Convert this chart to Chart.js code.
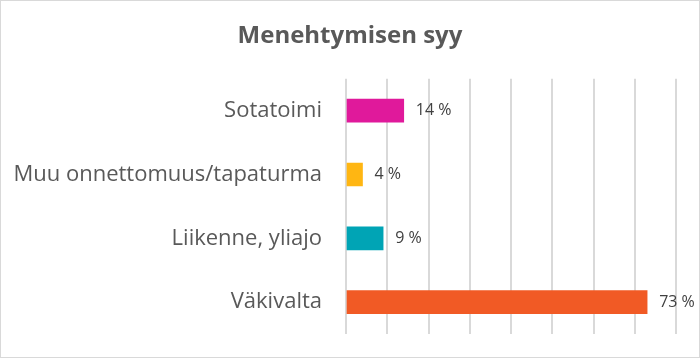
<!DOCTYPE html>
<html>
<head>
<meta charset="utf-8">
<script src="https://cdn.jsdelivr.net/npm/chart.js@4/dist/chart.umd.min.js"></script>
<style>
  html, body { margin: 0; padding: 0; background: #fff; }
  #wrap {
    width: 700px; height: 358px; box-sizing: border-box;
    border: 1px solid #d9d9d9; position: relative;
  }
</style>
</head>
<body>
<div id="wrap"><canvas id="causeChart" width="698" height="356"></canvas></div>
<script>
const categories = ["Sotatoimi", "Muu onnettomuus/tapaturma", "Liikenne, yliajo", "Väkivalta"];
const shares = [14, 4, 9, 73];
const barColors = ["#e0199b", "#ffb612", "#00a4b5", "#f15a25"];
const FONT = "'Open Sans', sans-serif";

// value labels drawn next to each bar
const valueLabels = {
  id: "valueLabels",
  afterDatasetsDraw(chart) {
    const ctx = chart.ctx;
    const meta = chart.getDatasetMeta(0);
    ctx.save();
    ctx.font = "16px " + FONT;
    ctx.fillStyle = "#404040";
    ctx.textBaseline = "middle";
    ctx.textAlign = "left";
    meta.data.forEach((bar, i) => {
      ctx.fillText(shares[i] + " %", bar.x + 12, bar.y);
    });
    ctx.restore();
  }
};

new Chart(document.getElementById("causeChart").getContext("2d"), {
  type: "bar",
  data: {
    labels: categories,
    datasets: [{
      data: shares,
      backgroundColor: barColors,
      barThickness: 23
    }]
  },
  plugins: [valueLabels],
  options: {
    indexAxis: "y",
    responsive: false,
    animation: false,
    layout: { padding: 0 },
    scales: {
      x: {
        min: 0,
        max: 80,
        afterFit(scale) { scale.height = 23; },
        ticks: { display: false, stepSize: 10 },
        grid: { color: "#d9d9d9", lineWidth: 2, drawTicks: false },
        border: { display: false }
      },
      y: {
        afterFit(scale) {
          scale.width = 345;
          scale.paddingTop = 0;
          scale.paddingBottom = 0;
        },
        grid: { display: false, drawTicks: false },
        border: { display: false },
        ticks: {
          padding: 24,
          color: "#595959",
          font: { family: FONT, size: 22 }
        }
      },
      // empty right-hand axis: reserves the right margin inside the layout,
      // so the title stays centred on the whole canvas
      yRight: {
        type: "category",
        position: "right",
        afterFit(scale) {
          scale.width = 23;
          scale.paddingTop = 0;
          scale.paddingBottom = 0;
        },
        ticks: { display: false },
        grid: { display: false, drawTicks: false },
        border: { display: false }
      }
    },
    plugins: {
      legend: { display: false },
      tooltip: { enabled: false },
      title: {
        display: true,
        text: "Menehtymisen syy",
        color: "#595959",
        font: { family: FONT, size: 24, weight: "bold" },
        padding: { top: 21, bottom: 28 }
      }
    }
  }
});
</script>
</body>
</html>
